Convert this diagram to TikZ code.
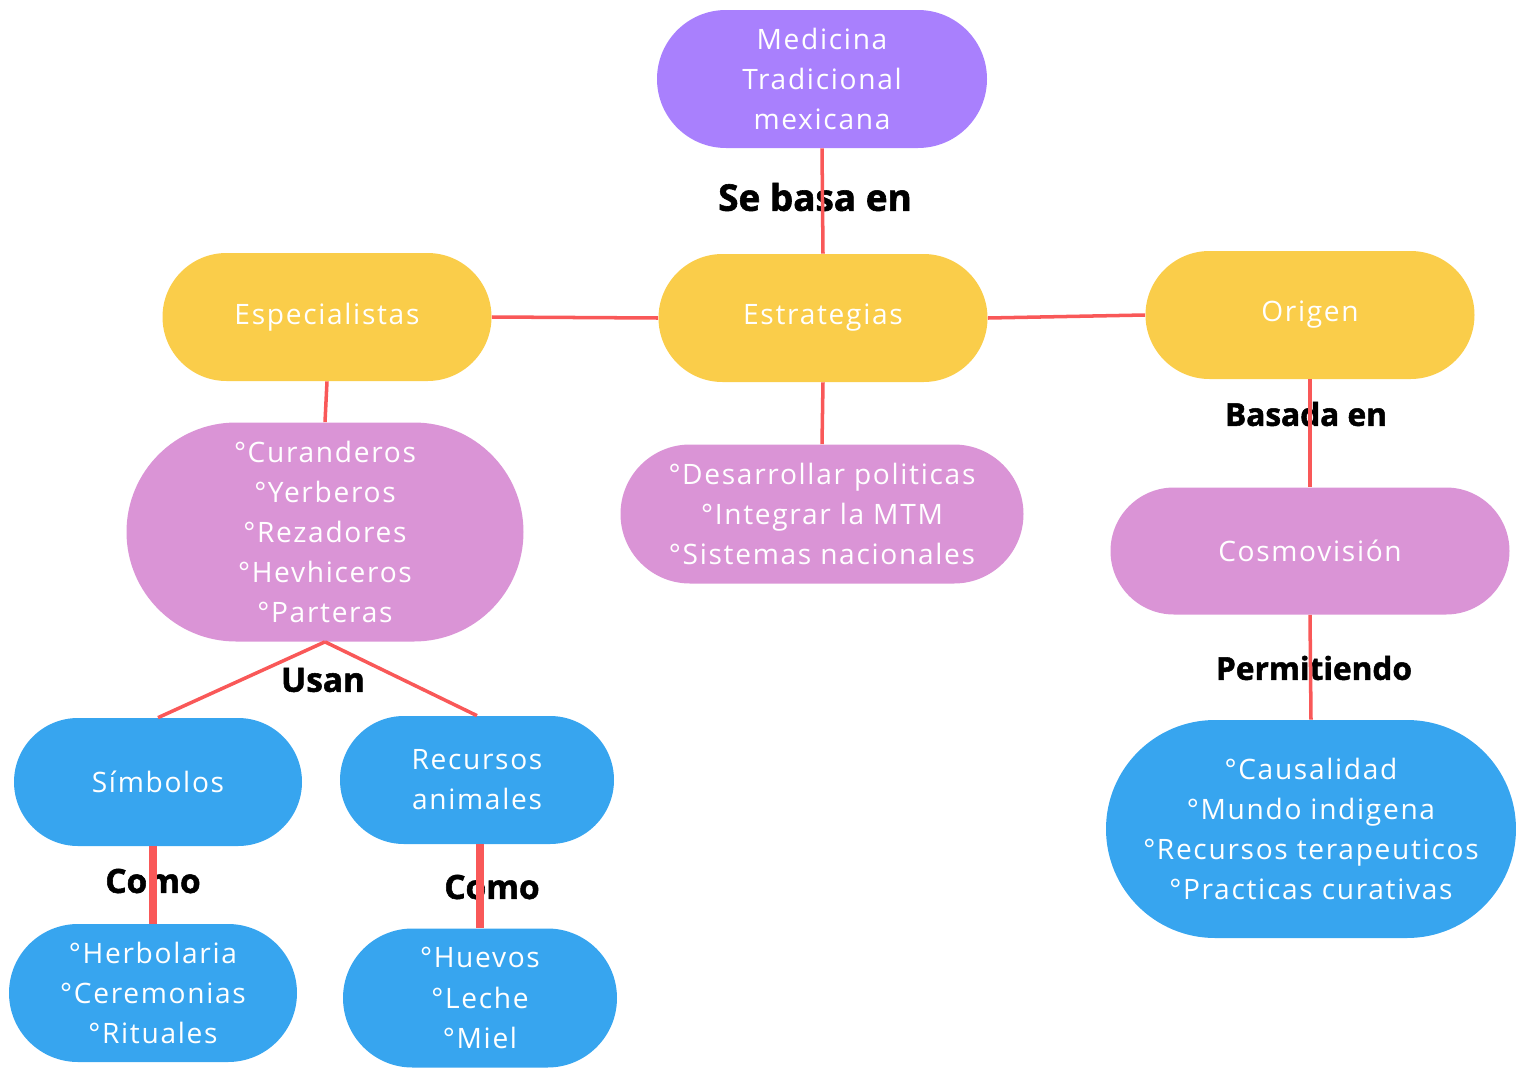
\documentclass[tikz,border=0pt]{standalone}
\usepackage{fontspec}
\setmainfont{Open Sans}[LetterSpace=6]
\newfontfamily\lblfont{Open Sans}[BoldFeatures={FakeBold=1.6}]
\usetikzlibrary{shapes.misc}
\definecolor{morado}{HTML}{A980FD}
\definecolor{amarillo}{HTML}{FACD4A}
\definecolor{rosa}{HTML}{DA94D6}
\definecolor{azul}{HTML}{37A5EF}
\definecolor{rojo}{HTML}{F95858}
\begin{document}
\begin{tikzpicture}[x=0.02cm,y=-0.02cm,
        caja/.style 2 args={rounded rectangle, inner sep=0pt, text=white, align=center,
                minimum width=#1*0.02cm, minimum height=#2*0.02cm,
                font=\fontsize{16}{22.8}\selectfont},
        liga/.style={draw=rojo, line width=2pt},
        ligagruesa/.style={draw=rojo, line width=4pt},
        etiq/.style={inner sep=0pt, font=\lblfont\bfseries\fontsize{#1}{#1}\selectfont},
        etiq/.default=18]
        \useasboundingbox (0,0) rectangle (1516,1069);
        \node (med) [caja={330}{138}, fill=morado] at (822,79) {Medicina\\Tradicional\\mexicana};
        \node (esp) [caja={329}{128}, fill=amarillo] at (327,317) {Especialistas};
        \node (est) [caja={329}{128}, fill=amarillo] at (823,318) {Estrategias};
        \node (ori) [caja={329}{128}, fill=amarillo] at (1310,315) {Origen};
        \node (cur) [caja={397}{219}, fill=rosa] at (325,532) {°Curanderos\\°Yerberos\\°Rezadores\\°Hevhiceros\\°Parteras};
        \node (pol) [caja={403}{139}, fill=rosa] at (822,514) {°Desarrollar politicas\\°Integrar la MTM\\°Sistemas nacionales};
        \node (cos) [caja={399}{127}, fill=rosa] at (1310,551) {Cosmovisión};
        \node (sim) [caja={288}{128}, fill=azul] at (158,782) {Símbolos};
        \node (rec) [caja={274}{128}, fill=azul] at (477,780) {Recursos\\animales};
        \node (her) [caja={288}{138}, fill=azul] at (153,993) {°Herbolaria\\°Ceremonias\\°Rituales};
        \node (hue) [caja={274}{139}, fill=azul] at (480,998) {°Huevos\\°Leche\\°Miel};
        \node (cau) [caja={410}{218}, fill=azul] at (1311,829) {°Causalidad\\°Mundo indigena\\°Recursos terapeuticos\\°Practicas curativas};

        \node (sebasa) [etiq=21] at (815,197) {Se basa en};
        \node (basada) [etiq] at (1306,414) {Basada en};
        \node (permit) [etiq] at (1314,668) {Permitiendo};
        \node (usan) [etiq=19] at (323,680) {Usan};
        \node (como1) [etiq=19] at (153,881) {Como};
        \node (como2) [etiq=19] at (492,887) {Como};

        \draw [liga] (med.south) -- (est.north);
        \draw [liga] (esp.east) -- (est.west);
        \draw [liga] (est.east) -- (ori.west);
        \draw [liga] (est.south) -- (pol.north);
        \draw [liga] (esp.south) -- (cur.north);
        \draw [liga] (ori.south) -- (cos.north);
        \draw [liga] (cos.south) -- (cau.north);
        \draw [liga] (cur.south) -- (sim.north);
        \draw [liga] (cur.south) -- (rec.north);
        \draw [ligagruesa] (sim.south -| her.north) -- (her.north);
        \draw [ligagruesa] (rec.south -| hue.north) -- (hue.north);
\end{tikzpicture}
\end{document}
